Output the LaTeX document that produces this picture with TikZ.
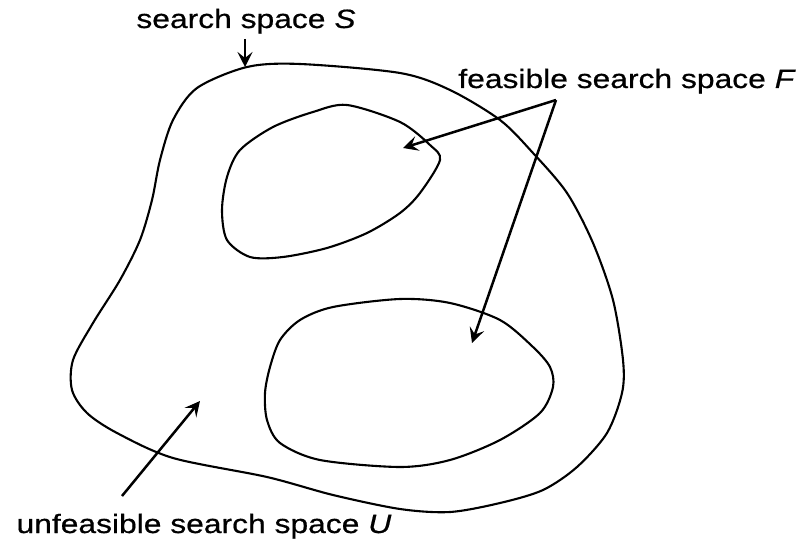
\documentclass[tikz,border=0pt]{standalone}
\usepackage{fontspec}
\setmainfont{Liberation Sans}[FakeStretch=1.2, FakeBold=0.6]
\usetikzlibrary{arrows.meta}

\begin{document}
\begin{tikzpicture}[
  x=1pt, y=-1pt,
  font=\fontsize{26.5}{30}\selectfont,
  >={Stealth[length=15pt, width=15pt, inset=6pt]},
  region/.style={line width=2.1pt, line join=round},
  pointer/.style={->, line width=2.5pt},
  lbl/.style={inner sep=0pt, anchor=base}
]
\useasboundingbox (0,0) rectangle (802,545);

% search space S and the two feasible parts
\draw[region] plot[smooth cycle] coordinates {
  (247,67) (300,64) (400,73) (450,90) (500,120) (533,153) (567,193)
  (593,243) (613,300) (623,360) (622,393) (607,433) (577,467) (543,490)
  (500,503) (450,512) (400,509) (333,495) (267,477) (173,458) (117,433)
  (87,413) (72,390) (73,360) (93,323) (120,280) (140,240) (152,200)
  (160,160) (173,120) (197,88)};
\draw[region] plot[smooth cycle] coordinates {
  (347,105) (400,122) (430,145) (440,160) (420,193) (400,213) (367,233)
  (327,248) (283,257) (250,257) (227,240) (222,210) (227,177) (240,150)
  (273,127) (313,112)};
\draw[region] plot[smooth cycle] coordinates {
  (400,299) (450,303) (500,320) (533,347) (550,367) (553,387) (540,413)
  (500,440) (450,460) (400,467) (320,460) (280,443) (267,420) (265,393)
  (270,367) (280,340) (300,320) (333,307)};

% labels
\node[lbl] (lblS) at (246,28)  {search space \textit{S}};
\node[lbl] (lblF) at (627,88)  {feasible search space \textit{F}};
\node[lbl] (lblU) at (204,533) {unfeasible search space \textit{U}};

\coordinate (sFrom) at (245,39);
\coordinate (sTip)  at (245,67);
\coordinate (fFrom) at (556,100);
\coordinate (fTipA) at (403,148);
\coordinate (fTipB) at (472,343);
\coordinate (uFrom) at (122,496);
\coordinate (uTip)  at (200,401);

\draw[pointer] (sFrom) -- (sTip);
\draw[pointer] (fFrom) -- (fTipA);
\draw[pointer] (fFrom) -- (fTipB);
\draw[pointer] (uFrom) -- (uTip);
\end{tikzpicture}
\end{document}
